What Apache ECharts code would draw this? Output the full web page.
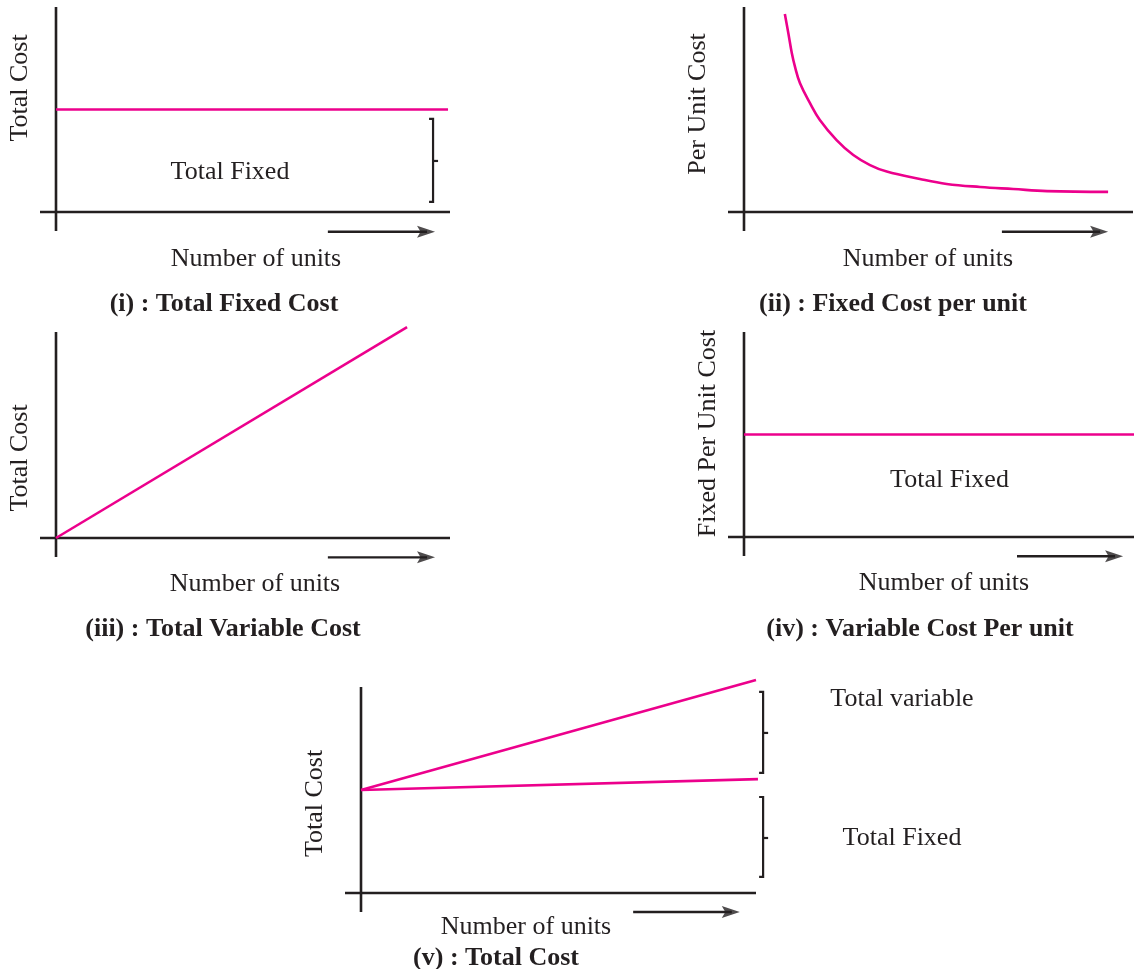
<!DOCTYPE html>
<html>
<head>
<meta charset="utf-8">
<script src="https://cdn.jsdelivr.net/npm/echarts@6/dist/echarts.min.js"></script>
<style>
html,body{margin:0;padding:0;background:#ffffff;}
#chart{width:1134px;height:969px;}
</style>
</head>
<body>
<div id="chart"></div>
<script>
// ---------------- DATA (abstract units: 0..10 along each positive axis) ----------------
// (i) Total Fixed Cost
const fixedCostX = [0, 9.95];
const fixedCostY = [5.0, 5.0];
// (ii) Fixed Cost per unit
const perUnitX = [1.05, 1.14, 1.23, 1.31, 1.44, 1.70, 1.95, 2.38, 2.81, 3.24, 3.67, 4.52, 5.21, 6.07, 6.92, 7.79, 9.36];
const perUnitY = [9.66, 8.72, 7.74, 7.09, 6.28, 5.30, 4.49, 3.51, 2.78, 2.29, 1.97, 1.61, 1.37, 1.22, 1.12, 1.02, 0.98];
// (iii) Total Variable Cost
const varCostX = [0, 8.91];
const varCostY = [0, 10.24];
// (iv) Variable Cost Per unit
const varPerUnitX = [0, 10];
const varPerUnitY = [5.0, 5.0];
// (v) Total Cost
const totalCostX = [0, 10.0];
const totalCostY = [5.0, 10.34];
const fixedPartX = [0, 10.05];
const fixedPartY = [5.0, 5.53];

// brackets
const bracketPanel = [0, 4, 4];
const bracketX     = [9.57, 10.18, 10.18];
const bracketLow   = [0.49, 5.83, 0.78];
const bracketHigh  = [4.54, 9.76, 4.66];
const bracketMid   = [2.49, 7.77, 2.67];

// direction arrows under each x-axis
const arrowFrom = [6.90, 6.63, 6.90, 7.00, 6.89];
const arrowTip  = [9.62, 9.36, 9.62, 9.72, 9.59];
const arrowY    = [-0.96, -0.96, -0.94, -0.94, -0.92];

// texts
const yAxisLabels = ['Total Cost', 'Per Unit Cost', 'Total Cost', 'Fixed Per Unit Cost', 'Total Cost'];
const xAxisLabels = ['Number of units', 'Number of units', 'Number of units', 'Number of units', 'Number of units'];
const captions = ['(i) : Total Fixed Cost', '(ii) : Fixed Cost per unit', '(iii) : Total Variable Cost', '(iv) : Variable Cost Per unit', '(v) : Total Cost'];
const noteLabels = ['Total Fixed', 'Total Fixed', 'Total variable', 'Total Fixed'];

// ---------------- LAYOUT ----------------
const W = 1134;
const frames = [
  {ox: 56,  oy: 212, xl: 40,  xr: 450,  yt: 7,   yb: 231},
  {ox: 744, oy: 212, xl: 728, xr: 1133, yt: 7,   yb: 231},
  {ox: 56,  oy: 538, xl: 40,  xr: 450,  yt: 332, yb: 557},
  {ox: 744, oy: 537, xl: 728, xr: 1134, yt: 332, yb: 556},
  {ox: 361, oy: 893, xl: 345, xr: 756,  yt: 687, yb: 912}
];
const yLabelPos = [[20, 88], [698, 104], [20.5, 458], [708.5, 433.5], [315, 803.5]];
const xLabelPos = [[256, 259], [928, 259], [255, 584], [944, 583], [526, 927]];
const captionPos = [[224, 304], [893, 304], [223, 629], [920, 629], [496, 958]];
const notePos = [[230, 172], [949.5, 480.5], [902, 699], [902, 838]];

const INK = '#231f20';
const MAGENTA = '#ec008c';
const FONT = '"Liberation Serif", "Times New Roman", serif';
const ARROW_PATH = 'path://M0,0L18,6L0,12L3.5,6Z';

const grids = [], xAxes = [], yAxes = [], series = [];
const zip = (xs, ys) => xs.map((x, i) => [x, ys[i]]);

function lineSeries(p, pts, color, width, extra) {
  return Object.assign({
    type: 'line', xAxisIndex: p, yAxisIndex: p, data: pts,
    symbol: 'none', clip: false, silent: true, animation: false,
    lineStyle: {color: color, width: width, cap: 'butt', join: 'miter'}
  }, extra || {});
}

frames.forEach((f, p) => {
  const sx = (f.xr - f.ox) / 10, sy = (f.oy - f.yt) / 10;
  const xMin = -(f.ox - f.xl) / sx, yMin = -(f.yb - f.oy) / sy;
  const extra = Math.max(0, Math.min(1.5, (W - f.xr) / sx)); // spare room right of the axis, inside the page
  f.sx = sx; f.sy = sy;
  grids.push({left: f.xl, top: f.yt, width: f.xr - f.xl + extra * sx, height: f.yb - f.yt, containLabel: false});
  xAxes.push({type: 'value', gridIndex: p, min: xMin, max: 10 + extra, show: false});
  yAxes.push({type: 'value', gridIndex: p, min: yMin, max: 10, show: false});
  // axes
  series.push(lineSeries(p, [[xMin, 0], [10, 0]], INK, 2.6));
  series.push(lineSeries(p, [[0, yMin], [0, 10]], INK, 2.6));
  // direction arrow
  const shaftEnd = arrowTip[p] - 8 / sx;
  series.push(lineSeries(p, [[arrowFrom[p], arrowY[p]], [shaftEnd, arrowY[p]]], INK, 2.4));
  series.push({
    type: 'scatter', xAxisIndex: p, yAxisIndex: p, data: [[arrowTip[p], arrowY[p]]],
    symbol: ARROW_PATH, symbolSize: [18, 12], symbolOffset: [-9, 0],
    itemStyle: {color: INK}, clip: false, silent: true, animation: false
  });
});

// curves
series.push(lineSeries(0, zip(fixedCostX, fixedCostY), MAGENTA, 2.6));
series.push(lineSeries(1, zip(perUnitX, perUnitY), MAGENTA, 2.6, {smooth: 0.4, smoothConstraint: false}));
series.push(lineSeries(2, zip(varCostX, varCostY), MAGENTA, 2.6));
series.push(lineSeries(3, zip(varPerUnitX, varPerUnitY), MAGENTA, 2.6));
series.push(lineSeries(4, zip(totalCostX, totalCostY), MAGENTA, 2.6));
series.push(lineSeries(4, zip(fixedPartX, fixedPartY), MAGENTA, 2.6));

// brackets
bracketPanel.forEach((p, i) => {
  const f = frames[p];
  const inner = 4 / f.sx, midLen = 5 / f.sx;
  const x = bracketX[i];
  series.push(lineSeries(p, [[x - inner, bracketHigh[i]], [x, bracketHigh[i]], [x, bracketLow[i]], [x - inner, bracketLow[i]]], INK, 2.2));
  series.push(lineSeries(p, [[x, bracketMid[i]], [x + midLen, bracketMid[i]]], INK, 2.2));
});

// texts
const graphics = [];
function txt(s, pos, bold, rot) {
  graphics.push({
    type: 'text', x: pos[0], y: pos[1], rotation: rot ? Math.PI / 2 : 0, silent: true,
    style: {text: s, fill: INK, font: (bold ? 'bold ' : '') + '26px ' + FONT, textAlign: 'center', textVerticalAlign: 'middle'}
  });
}
yAxisLabels.forEach((s, i) => txt(s, yLabelPos[i], false, true));
xAxisLabels.forEach((s, i) => txt(s, xLabelPos[i], false, false));
captions.forEach((s, i) => txt(s, captionPos[i], true, false));
noteLabels.forEach((s, i) => txt(s, notePos[i], false, false));

const chart = echarts.init(document.getElementById('chart'), null, {renderer: 'canvas'});
chart.setOption({
  backgroundColor: '#ffffff',
  animation: false,
  tooltip: {show: false},
  grid: grids,
  xAxis: xAxes,
  yAxis: yAxes,
  series: series,
  graphic: graphics
});
</script>
</body>
</html>
